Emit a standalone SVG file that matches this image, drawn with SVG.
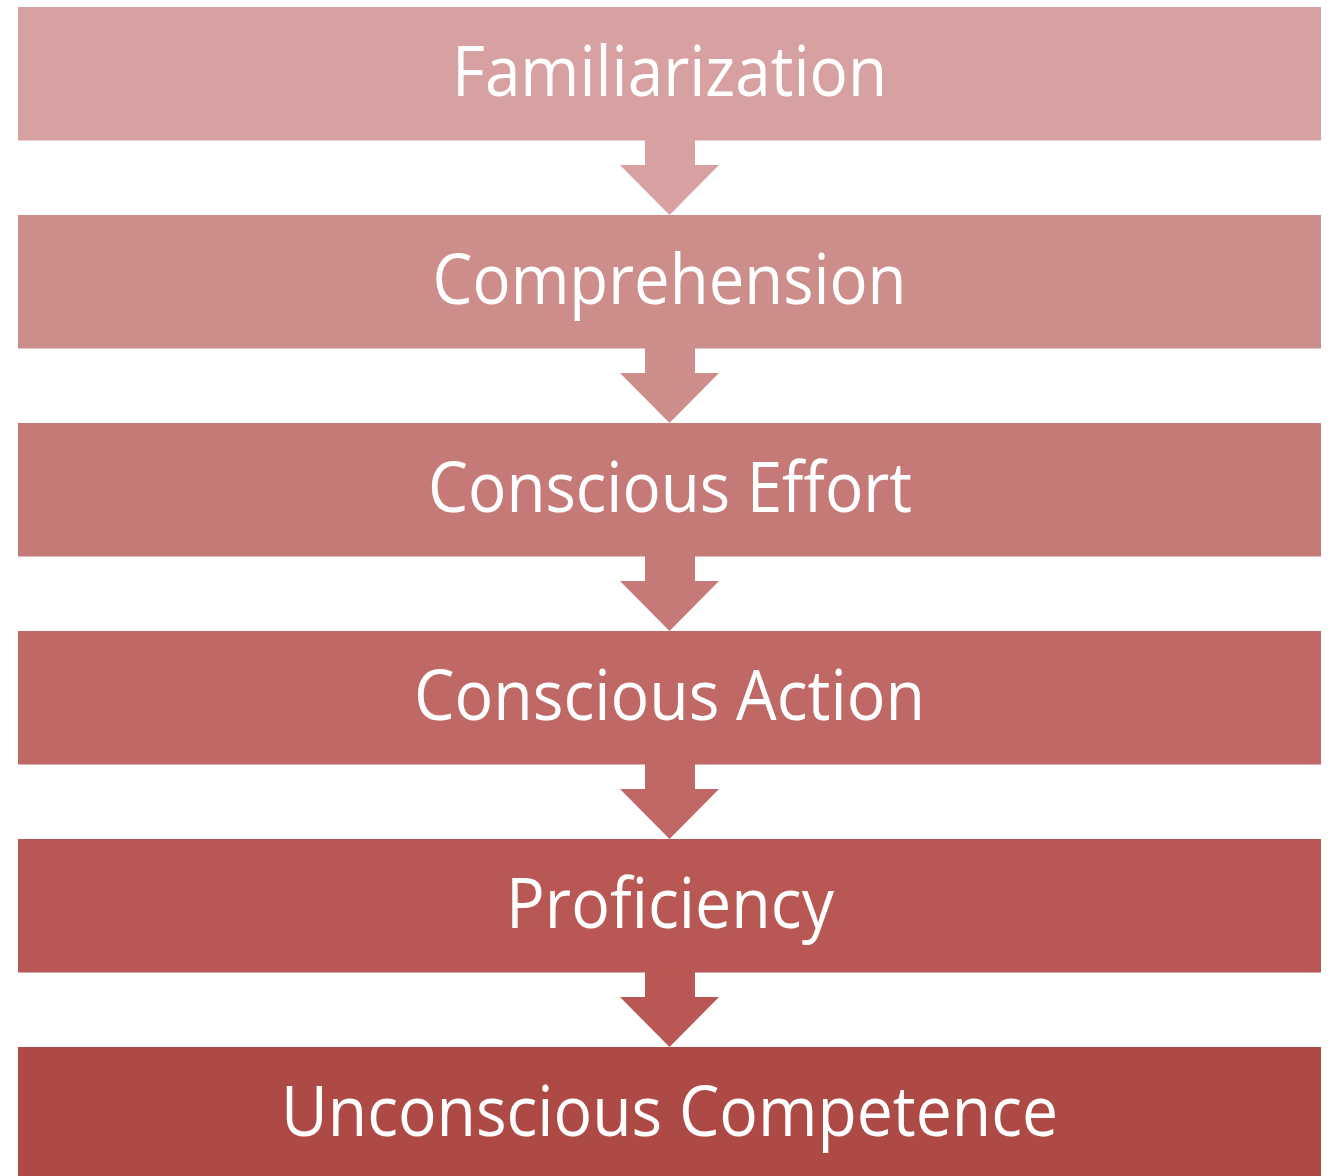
<svg xmlns="http://www.w3.org/2000/svg" width="1332" height="1176" viewBox="0 0 1332 1176">
<style>
.lbl{font-family:"Open Sans","Noto Sans",sans-serif;font-size:70px;fill:#ffffff;text-anchor:middle}
</style>
<rect width="1332" height="1176" fill="#ffffff"/>
<g id="connectors">
<path d="M645,140 H695 V165 H719 L669.5,215 L620,165 H645 Z" fill="#D6A1A0"/>
<path d="M645,348 H695 V373 H719 L669.5,423 L620,373 H645 Z" fill="#CD8D8B"/>
<path d="M645,556 H695 V581 H719 L669.5,631 L620,581 H645 Z" fill="#C67A77"/>
<path d="M645,764 H695 V789 H719 L669.5,839 L620,789 H645 Z" fill="#BF6865"/>
<path d="M645,972 H695 V997 H719 L669.5,1047 L620,997 H645 Z" fill="#B85753"/>
</g>
<g id="n1"><rect x="18" y="7" width="1303" height="133.5" fill="#D6A1A0"/><text class="lbl" x="669.5" y="96" textLength="435" lengthAdjust="spacingAndGlyphs">Familiarization</text></g>
<g id="n2"><rect x="18" y="215" width="1303" height="133.5" fill="#CD8D8B"/><text class="lbl" x="669.5" y="304" textLength="474" lengthAdjust="spacingAndGlyphs">Comprehension</text></g>
<g id="n3"><rect x="18" y="423" width="1303" height="133.5" fill="#C67A77"/><text class="lbl" x="670" y="512" textLength="484" lengthAdjust="spacingAndGlyphs">Conscious Effort</text></g>
<g id="n4"><rect x="18" y="631" width="1303" height="133.5" fill="#BF6865"/><text class="lbl" x="669.5" y="720" textLength="511" lengthAdjust="spacingAndGlyphs">Conscious Action</text></g>
<g id="n5"><rect x="18" y="839" width="1303" height="133.5" fill="#B85753"/><text class="lbl" x="670" y="928" textLength="328" lengthAdjust="spacingAndGlyphs">Proficiency</text></g>
<g id="n6"><rect x="18" y="1047" width="1303" height="133" fill="#AE4A46"/><text class="lbl" x="669.5" y="1136" textLength="777" lengthAdjust="spacingAndGlyphs">Unconscious Competence</text></g>
</svg>
